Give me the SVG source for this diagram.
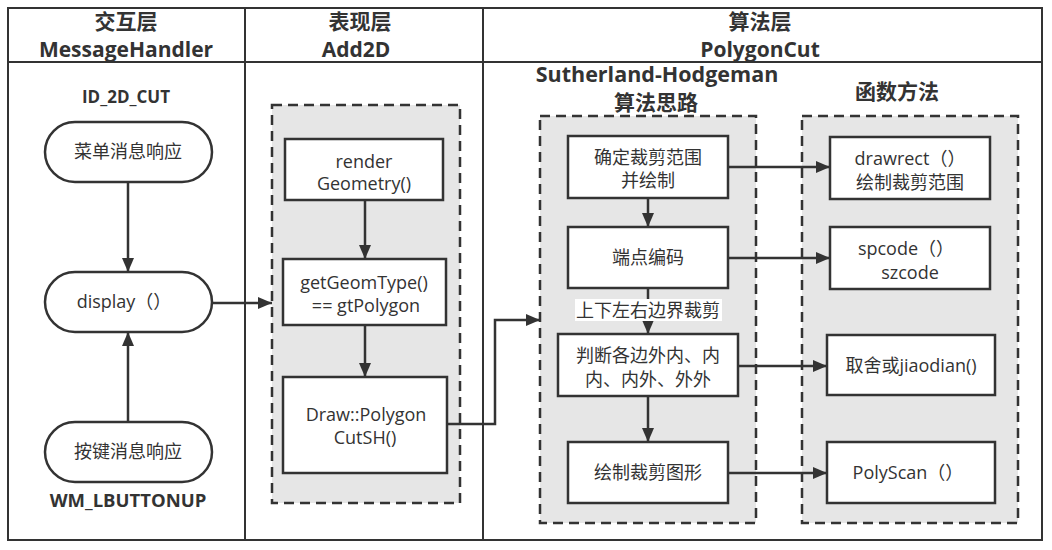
<svg xmlns="http://www.w3.org/2000/svg" width="1052" height="550" viewBox="0 0 1052 550">
<style>
text{font-family:"Open Sans","Noto Sans CJK SC",sans-serif;fill:#333;text-anchor:middle}
.h{font-weight:bold;font-size:21px}
.b{font-weight:bold;font-size:17px}
.t{font-size:18px}
.frame{fill:none;stroke:#333;stroke-width:2}
.grp{fill:#e6e6e6;stroke:#333;stroke-width:2.5;stroke-dasharray:10 6}
.box{fill:#fff;stroke:#333;stroke-width:2.5}
.c{fill:none;stroke:#333;stroke-width:2.5;marker-end:url(#ah)}
</style>
<defs>
<marker id="ah" viewBox="0 0 14 12" refX="14" refY="6" markerWidth="14" markerHeight="12" markerUnits="userSpaceOnUse" orient="auto">
<path d="M0,0 L14,6 L0,12 Z" fill="#333"/>
</marker>
</defs>
<rect width="1052" height="550" fill="#fff"/>
<g id="frame">
<rect class="frame" x="8" y="8" width="1034" height="532"/>
<line class="frame" x1="8" y1="62" x2="1042" y2="62"/>
<line class="frame" x1="245" y1="8" x2="245" y2="540"/>
<line class="frame" x1="483" y1="8" x2="483" y2="540"/>
<text class="h" x="126" y="29">交互层</text>
<text class="h" x="126" y="57">MessageHandler</text>
<text class="h" x="360" y="29">表现层</text>
<text class="h" x="356" y="57">Add2D</text>
<text class="h" x="760" y="29">算法层</text>
<text class="h" x="760" y="57">PolygonCut</text>
<text class="b" x="126" y="103">ID_2D_CUT</text>
<text class="b" x="128" y="507" style="font-size:18.5px">WM_LBUTTONUP</text>
<text class="h" x="657" y="82" style="font-size:21.5px">Sutherland-Hodgeman</text>
<text class="h" x="656" y="110">算法思路</text>
<text class="h" x="897" y="99">函数方法</text>
</g>
<g id="groups">
<rect class="grp" x="272" y="105" width="188" height="398"/>
<rect class="grp" x="540" y="116" width="216" height="407"/>
<rect class="grp" x="802" y="116" width="216" height="407"/>
</g>
<g id="connectors">
<line class="c" x1="128" y1="182" x2="128" y2="272"/>
<line class="c" x1="128" y1="422" x2="128" y2="332"/>
<line class="c" x1="212" y1="303" x2="272" y2="303"/>
<line class="c" x1="365" y1="200" x2="365" y2="259"/>
<line class="c" x1="365" y1="325" x2="365" y2="377"/>
<polyline class="c" points="447,424 495,424 495,320 540,320"/>
<line class="c" x1="648" y1="198" x2="648" y2="227"/>
<line class="c" x1="648" y1="288" x2="648" y2="334"/>
<line class="c" x1="648" y1="396" x2="648" y2="442"/>
<line class="c" x1="728" y1="167" x2="830" y2="167"/>
<line class="c" x1="728" y1="258" x2="830" y2="258"/>
<line class="c" x1="738" y1="366" x2="827" y2="366"/>
<line class="c" x1="728" y1="473" x2="827" y2="473"/>
<rect x="575" y="299" width="147" height="22" fill="#fff"/>
<text class="t" x="648" y="317">上下左右边界裁剪</text>
</g>
<g id="n1"><rect class="box" x="45" y="122" width="167" height="60" rx="30"/><text class="t" x="128" y="158">菜单消息响应</text></g>
<g id="n2"><rect class="box" x="45" y="272" width="167" height="60" rx="30"/><text class="t" x="124" y="308">display（）</text></g>
<g id="n3"><rect class="box" x="45" y="422" width="167" height="60" rx="30"/><text class="t" x="128" y="458">按键消息响应</text></g>
<g id="n4"><rect class="box" x="285" y="139" width="158" height="61"/><text class="t" x="364" y="168">render</text><text class="t" x="364" y="190">Geometry()</text></g>
<g id="n5"><rect class="box" x="283" y="259" width="163" height="66"/><text class="t" x="364" y="289">getGeomType()</text><text class="t" x="366" y="312">== gtPolygon</text></g>
<g id="n6"><rect class="box" x="283" y="377" width="164" height="96"/><text class="t" x="366" y="421">Draw::Polygon</text><text class="t" x="365" y="444">CutSH()</text></g>
<g id="n7"><rect class="box" x="568" y="136" width="160" height="62"/><text class="t" x="648" y="164">确定裁剪范围</text><text class="t" x="648" y="187">并绘制</text></g>
<g id="n8"><rect class="box" x="568" y="227" width="160" height="61"/><text class="t" x="648" y="264">端点编码</text></g>
<g id="n9"><rect class="box" x="558" y="334" width="180" height="62"/><text class="t" x="648" y="362">判断各边外内、内</text><text class="t" x="648" y="386">内、内外、外外</text></g>
<g id="n10"><rect class="box" x="568" y="442" width="160" height="61"/><text class="t" x="648" y="479">绘制裁剪图形</text></g>
<g id="n11"><rect class="box" x="830" y="137" width="160" height="62"/><text class="t" x="910" y="165">drawrect（）</text><text class="t" x="910" y="189">绘制裁剪范围</text></g>
<g id="n12"><rect class="box" x="830" y="227" width="160" height="62"/><text class="t" x="906" y="255">spcode（）</text><text class="t" x="910" y="279">szcode</text></g>
<g id="n13"><rect class="box" x="827" y="335" width="168" height="60"/><text class="t" x="911" y="372">取舍或jiaodian()</text></g>
<g id="n14"><rect class="box" x="827" y="442" width="168" height="61"/><text class="t" x="908" y="479">PolyScan（）</text></g>
</svg>
